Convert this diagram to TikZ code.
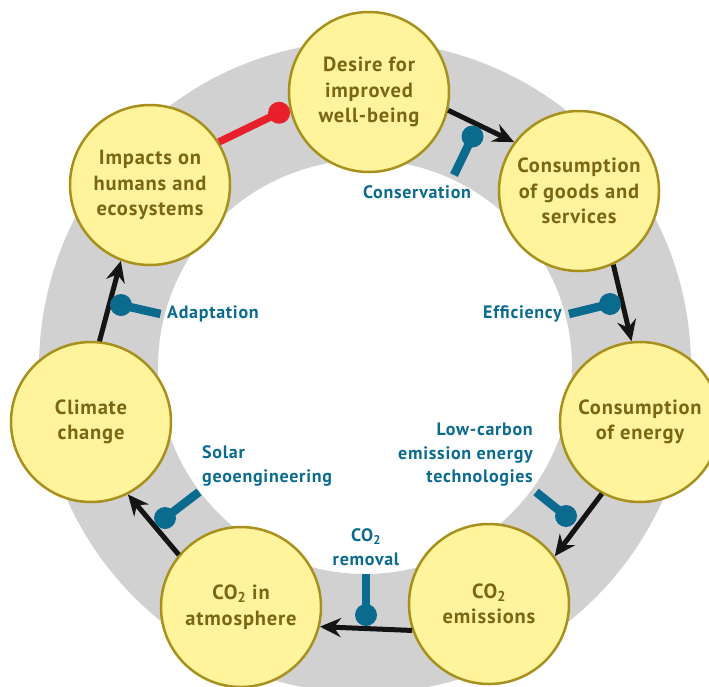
\documentclass[tikz,border=0pt]{standalone}
\usepackage{fontspec}
\setmainfont{PT Sans}
\newfontfamily\stagefont[LetterSpace=4]{PT Sans}
\usetikzlibrary{arrows.meta,calc}

\definecolor{ringgrey}{HTML}{D1D1D1}
\definecolor{nodefill}{HTML}{FFF49C}
\definecolor{nodeedge}{HTML}{A8901C}
\definecolor{nodetext}{HTML}{776818}
\definecolor{leverblue}{HTML}{0A6B8F}
\definecolor{impactred}{HTML}{E8202C}

\begin{document}
\begin{tikzpicture}[x=1pt,y=-1pt,
  stage/.style={circle, draw=nodeedge, line width=2.5pt, fill=nodefill,
    minimum size=160pt, inner sep=0pt, align=center, text=nodetext,
    font=\stagefont\bfseries\fontsize{20.5}{25.5}\selectfont},
  flow/.style={line width=5pt, draw=black!92,
    -{Stealth[length=21pt,width=19pt,inset=7pt]}},
  lever/.style={line width=8.5pt, draw=leverblue},
  ball/.style={circle, fill=leverblue, minimum size=22pt, inner sep=0pt},
  leverlabel/.style={text=leverblue, inner sep=0pt,
    font=\stagefont\bfseries\fontsize{18}{23.5}\selectfont},
]
\useasboundingbox (0,0) rectangle (709,686);
\clip (0,0) rectangle (709,686);

% grey band behind the cycle
\fill[ringgrey, even odd rule] (365,367) circle[radius=326] (365,367) circle[radius=207];

% stages of the cycle
\node[stage] (desire)  at (369,92)  {Desire for\\improved\\well-being};
\node[stage] (goods)   at (579,191) {Consumption\\of goods and\\services};
\node[stage] (energy)  at (640,422) {Consumption\\of energy};
\node[stage] (emis)    at (489,604) {CO\textsubscript{2}\\emissions};
\node[stage] (atmo)    at (241,607) {CO\textsubscript{2} in\\atmosphere};
\node[stage] (climate) at (91,422)  {Climate\\change};
\node[stage] (impacts) at (150,185) {Impacts on\\humans and\\ecosystems};

% causal links
\draw[flow] (desire.-13)  -- (goods.143);
\draw[flow] (goods.-65)   -- (energy.96);
\draw[flow] (energy.-118) -- (emis.36);
\draw[flow] (emis.199)    -- (atmo.-14.5);
\draw[flow] (atmo.140)    -- (climate.-63);
\draw[flow] (climate.84)  -- (impacts.-111);

% impacts dampen the desire for well-being
\draw[line width=7.5pt, impactred] (impacts.32) --
  ($(desire.193)!-11pt!(desire.center)$) node[ball, fill=impactred] (redball) {};

% intervention levers
\coordinate (s1) at (454,175);   \coordinate (p1) at (472.5,136.5);
\coordinate (s2) at (569,314);   \coordinate (p2) at (610,304);
\coordinate (s3) at (536,492);   \coordinate (p3) at (566,516);
\coordinate (s4) at (366,574);   \coordinate (p4) at (366,615);
\coordinate (s5) at (199,492);   \coordinate (p5) at (165,518);
\coordinate (s6) at (160.5,314); \coordinate (p6) at (121,305);

\draw[lever] (s1) -- (p1) node[ball] (b1) {};
\draw[lever] (s2) -- (p2) node[ball] (b2) {};
\draw[lever] (s3) -- (p3) node[ball] (b3) {};
\draw[lever] (s4) -- (p4) node[ball] (b4) {};
\draw[lever] (s5) -- (p5) node[ball] (b5) {};
\draw[lever] (s6) -- (p6) node[ball] (b6) {};

\node[leverlabel] (lcons) at (417,192) {Conservation};
\node[leverlabel, anchor=east] (leff) at (562,314) {Efficiency};
\node[leverlabel, anchor=east, align=right] (llow) at (533,455)
  {Low-carbon\\emission energy\\technologies};
\node[leverlabel, align=center] (lrem) at (366,547) {CO\textsubscript{2}\\removal};
\node[leverlabel, anchor=west, align=left] (lsolar) at (202,466)
  {Solar\\geoengineering};
\node[leverlabel, anchor=west] (ladapt) at (167,314) {Adaptation};
\end{tikzpicture}
\end{document}
